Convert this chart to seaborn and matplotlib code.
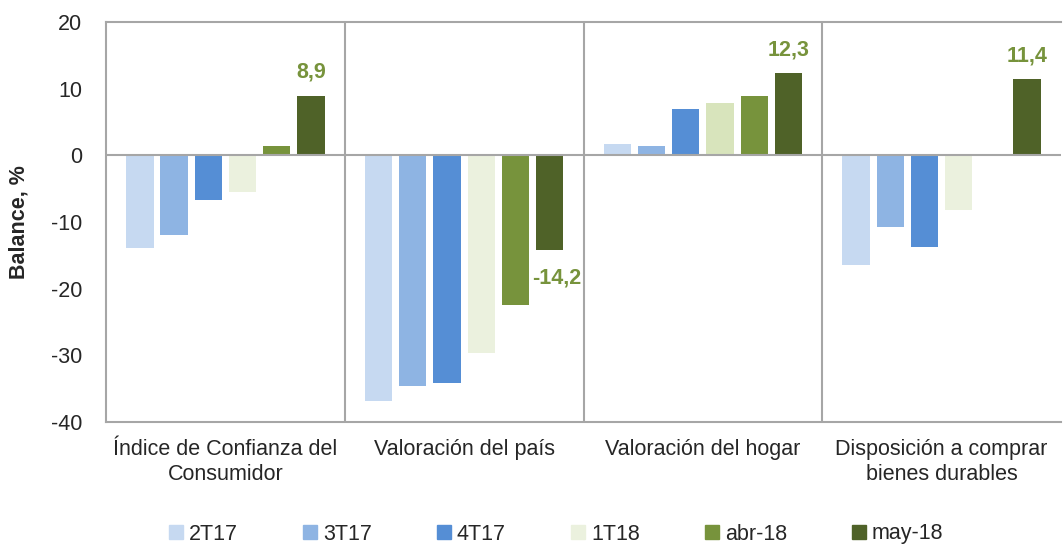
import matplotlib
matplotlib.use("Agg")
import matplotlib.pyplot as plt
import seaborn as sns
import pandas as pd
from matplotlib.lines import Line2D

categories = ["Índice de Confianza del\nConsumidor", "Valoración del país",
              "Valoración del hogar", "Disposición a comprar\nbienes durables"]
periods = ["2T17", "3T17", "4T17", "1T18", "abr-18", "may-18"]
v_2T17 = [-13.9, -36.8, 1.65, -16.4]
v_3T17 = [-12.0, -34.6, 1.45, -10.8]
v_4T17 = [-6.75, -34.2, 7.0, -13.8]
v_1T18 = [-5.5, -29.6, 7.9, -8.2]
v_abr18 = [1.45, -22.4, 8.85, -0.1]
v_may18 = [8.9, -14.2, 12.3, 11.4]
labels_may = ["8,9", "-14,2", "12,3", "11,4"]

colors = ["#C6D9F1", "#8EB4E3", "#558ED5", "#EBF1DE", "#77933C", "#4F6228"]

series = [v_2T17, v_3T17, v_4T17, v_1T18, v_abr18, v_may18]
rows = []
for p, vals in zip(periods, series):
    for c, v in zip(categories, vals):
        rows.append({"cat": c, "period": p, "value": v})
df = pd.DataFrame(rows)

sns.set_style("white")
plt.rcParams["font.family"] = ["Liberation Sans", "DejaVu Sans"]

FS = 15.5

fig = plt.figure(figsize=(10.63, 5.5), dpi=100)
ax = fig.add_axes([106/1063, 1-422/550, 955/1063, 400/550])

sns.barplot(data=df, x="cat", y="value", hue="period", order=categories,
            hue_order=periods, palette=colors, width=0.86, gap=0.2,
            linewidth=0, ax=ax, legend=False, saturation=1)

# slightly darker 1T18 bar in "Valoración del hogar"
ax.containers[3][2].set_facecolor("#D8E4BC")

gray = "#A6A6A6"
ax.set_ylim(-40, 20)
ax.set_xlim(-0.5, 3.5)
ax.set_yticks([-40, -30, -20, -10, 0, 10, 20])
ax.set_yticklabels(["-40", "-30", "-20", "-10", "0", "10", "20"], fontsize=FS)
ax.set_xticks(range(len(categories)))
ax.set_xticklabels(categories, fontsize=FS, linespacing=1.3)
ax.tick_params(axis="x", length=0, pad=12)
ax.tick_params(axis="y", length=0, pad=17)
ax.set_xlabel("")
ax.set_ylabel("Balance, %", fontsize=FS, fontweight="bold")
ax.yaxis.set_label_coords(-0.08, 0.5)
for s in ax.spines.values():
    s.set_color(gray)
    s.set_linewidth(1.5)
ax.spines["right"].set_visible(False)
ax.axhline(0, color=gray, lw=1.5, zorder=3)
for xb in [0.5, 1.5, 2.5]:
    ax.axvline(xb, color=gray, lw=1.5, zorder=3)

# data labels on may-18 bars
for i, bar in enumerate(ax.containers[5]):
    xc = bar.get_x() + bar.get_width() / 2
    h = bar.get_height()
    if h >= 0:
        ax.annotate(labels_may[i], (xc, h), xytext=(0, 17), textcoords="offset points",
                    ha="center", va="center", color="#77933C", fontsize=FS, fontweight="bold")
    else:
        ax.annotate(labels_may[i], (xc, h), xytext=(5, -20), textcoords="offset points",
                    ha="center", va="center", color="#77933C", fontsize=FS, fontweight="bold")

handles = [Line2D([], [], marker="s", linestyle="none", markersize=9.5,
                  markerfacecolor=c, markeredgecolor=c) for c in colors]
fig.legend(handles, periods, loc="center", bbox_to_anchor=(0.522, 1-534/550),
           ncol=6, frameon=False, fontsize=FS, handletextpad=0.15,
           columnspacing=2.9, handlelength=0.9)

fig.savefig("out.png", dpi=100)
